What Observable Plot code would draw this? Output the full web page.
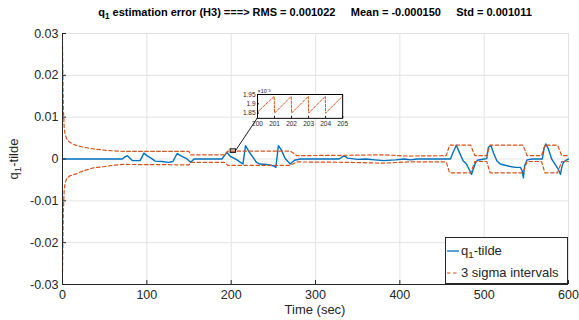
<!DOCTYPE html>
<html><head><meta charset="utf-8">
<script src="https://cdn.jsdelivr.net/npm/d3@7"></script>
<script src="https://cdn.jsdelivr.net/npm/@observablehq/plot@0.6"></script>
<style>
body{margin:0;background:#fff;font-family:"Liberation Sans",Arial,sans-serif;color:#262626;}
#wrap{position:relative;width:579px;height:320px;overflow:hidden;background:#fff;}
#title{height:24px;position:relative;}
#title span{position:absolute;left:62px;width:506px;top:6px;text-align:center;font-weight:bold;font-size:11px;color:#000;white-space:pre;line-height:12px;}
sub{font-size:75%;line-height:0;vertical-align:-0.35em;}
.lab{position:absolute;font-size:13px;color:#262626;white-space:nowrap;line-height:14px;}
#legend{position:absolute;left:445px;top:237px;width:121px;height:45px;border:1px solid #262626;background:#fff;}
#legend div{position:absolute;left:0;height:20px;font-size:13px;white-space:nowrap;}
#legend svg{position:absolute;left:1px;top:4px;}
#legend span{position:absolute;left:15px;top:2px;}
</style></head>
<body><div id="wrap"></div>
<script>
// ---- data ----
const titleText = "estimation error (H3) ===> RMS = 0.001022     Mean = -0.000150     Std = 0.001011";
const xTicks = [0, 100, 200, 300, 400, 500, 600];
const yTicks = [-0.03, -0.02, -0.01, 0, 0.01, 0.02, 0.03];
const xDomain = [0, 600];
const yDomain = [-0.03, 0.03];

// q1-tilde (estimation error)
const errT = [0, 71, 74, 77, 80, 83, 92, 94, 96.5, 100, 105, 110, 118, 126, 131, 134, 136, 140, 147, 152, 156, 189, 192, 195, 199, 203, 207, 211, 214, 217, 221, 226, 230, 234, 242, 250, 253, 256, 260, 264, 270, 275, 282, 328, 334, 338, 350, 360, 370, 381, 395, 405, 413, 420, 460, 463, 467, 471, 475, 479, 483, 485, 487, 489.5, 492, 500, 503, 505, 508, 511, 515, 519, 525, 531, 537, 543, 545, 546.5, 548, 551, 557, 569, 571, 573, 576, 580, 584, 588, 590.5, 592, 594, 597, 600];
const errV = [0, 0, 0.0005, 0.0008, 0.0002, -0.0004, -0.0004, 0.0004, 0.0014, 0.0008, 0.0002, -0.0005, -0.0006, -0.0008, -0.0006, 0.0006, 0.0013, 0.0008, 0.0001, -0.0008, 0, 0, 0.0008, 0.0016, 0.0006, 0.0002, -0.0002, -0.0008, -0.0012, 0.0032, 0.0018, 0.0004, -0.0008, -0.0012, -0.0013, -0.0016, -0.002, 0.0032, 0.002, 0.0001, -0.0012, -0.0003, 0, 0, 0.0008, 0.0002, -0.0001, 0, -0.0002, -0.0004, -0.0002, 0, -0.0002, 0, 0, 0.0015, 0.0033, 0.0014, -0.0004, -0.0012, -0.0028, -0.0037, -0.0025, -0.001, -0.0003, 0, 0.0001, 0.0028, 0.0033, 0.0015, -0.0004, -0.0012, -0.0015, -0.0018, -0.002, -0.002, -0.0028, -0.0045, -0.0016, -0.0002, 0, 0, 0.0025, 0.0036, 0.0025, 0, -0.0012, -0.0025, -0.0037, -0.002, -0.0008, -0.0003, 0];

// 3 sigma intervals
const sigT = [0, 0.5, 1, 2, 3, 5, 8, 12, 17, 25, 37, 50, 57, 65, 73, 150, 152, 192, 196, 270, 278, 340, 380, 410, 455, 459, 484, 489, 503, 507, 546, 551, 568, 572, 587, 592, 600];
const sigUp = [0.027, 0.02, 0.012, 0.0075, 0.006, 0.0048, 0.0041, 0.0036, 0.0032, 0.0028, 0.0024, 0.0021, 0.002, 0.0019, 0.0018, 0.0018, 0.001, 0.001, 0.0019, 0.0019, 0.0008, 0.0009, 0.001, 0.0007, 0.0008, 0.0033, 0.0033, 0.0008, 0.0008, 0.0033, 0.0033, 0.0008, 0.0008, 0.0033, 0.0033, 0.0008, 0.0008];
const sigLo = [-0.027, -0.02, -0.012, -0.0075, -0.0058, -0.0047, -0.0041, -0.0038, -0.0035, -0.0028, -0.0021, -0.0018, -0.0016, -0.0014, -0.0013, -0.0014, -0.0008, -0.0008, -0.0015, -0.0015, -0.0007, -0.0008, -0.001, -0.0007, -0.0007, -0.0033, -0.0033, -0.0006, -0.0006, -0.0033, -0.0033, -0.0006, -0.0006, -0.0033, -0.0033, -0.0006, -0.0006];

// zoomed inset (values in 1e-3)
const insetT = [200, 200.98, 201, 201.98, 202, 202.98, 203, 203.98, 204, 204.98, 205];
const insetV = [1.856, 1.94, 1.85, 1.94, 1.85, 1.94, 1.85, 1.94, 1.85, 1.94, 1.945];
const insetXTicks = [200, 201, 202, 203, 204, 205];
const insetYTicks = [1.85, 1.9, 1.95];
const insetXDomain = [200, 205];
const insetYDomain = [1.822, 1.95];
// zoom marker region and inset placement (main data units)
const zoomBox = {x1: 200, x2: 205, y1: 0.00183, y2: 0.00195};
const insetBox = {x1: 231, x2: 332, y1: 0.0098, y2: 0.0155};

// ---- chart ----
const BLUE = "#0072BD", ORANGE = "#D95319", INK = "#262626", GRID = "#e3e3e3";
const font = '"Liberation Sans", Arial, sans-serif';
const wrap = document.getElementById("wrap");

const title = document.createElement("div");
title.id = "title";
title.innerHTML = `<span>q<sub>1</sub> ${titleText.replace(/>/g, "&gt;")}</span>`;
wrap.appendChild(title);

const W = 579, H = 296, mL = 62, mR = 11, mT = 9, mB = 36;
const tickLen = 4;
const xl = (xDomain[1] - xDomain[0]) * tickLen / (W - mL - mR);
const yl = (yDomain[1] - yDomain[0]) * tickLen / (H - mT - mB);

const err = errT.map((t, i) => ({t, v: errV[i]}));
const up = sigT.map((t, i) => ({t, v: sigUp[i]}));
const lo = sigT.map((t, i) => ({t, v: sigLo[i]}));

const main = Plot.plot({
  width: W, height: H, marginLeft: mL, marginRight: mR, marginTop: mT, marginBottom: mB,
  x: {domain: xDomain}, y: {domain: yDomain},
  style: {fontFamily: font, fontSize: "12.5px", color: INK, background: "transparent"},
  marks: [
    Plot.gridX(xTicks, {stroke: GRID, strokeOpacity: 1}),
    Plot.gridY(yTicks, {stroke: GRID, strokeOpacity: 1}),
    Plot.line(err, {x: "t", y: "v", stroke: BLUE, strokeWidth: 1.4}),
    Plot.line(up, {x: "t", y: "v", stroke: ORANGE, strokeWidth: 1.2, strokeDasharray: "3.5,2.5"}),
    Plot.line(lo, {x: "t", y: "v", stroke: ORANGE, strokeWidth: 1.2, strokeDasharray: "3.5,2.5"}),
    Plot.rect([zoomBox], {x1: "x1", x2: "x2", y1: "y1", y2: "y2", stroke: "#000", fill: "none", strokeWidth: 1, insetTop: -1.5, insetBottom: -1.5, insetLeft: -0.5, insetRight: -0.5}),
    Plot.link([{a: zoomBox.x2, b: zoomBox.y2, c: insetBox.x1, d: insetBox.y1}], {x1: "a", y1: "b", x2: "c", y2: "d", stroke: "#000", strokeWidth: 0.9}),
    Plot.ruleX(xTicks, {x: d => d, y1: yDomain[0], y2: yDomain[0] + yl, stroke: INK}),
    Plot.ruleY(yTicks, {y: d => d, x1: xDomain[0], x2: xDomain[0] + xl, stroke: INK}),
    Plot.ruleX([xDomain[0]], {stroke: INK}),
    Plot.ruleY([yDomain[0]], {stroke: INK}),
    Plot.axisX({ticks: xTicks, tickSize: 0, tickPadding: 6, label: null, fill: INK}),
    Plot.axisY({ticks: yTicks, tickSize: 0, tickPadding: 4, label: null, tickFormat: d => d === 0 ? "0" : d.toFixed(2), fill: INK})
  ]
});
main.style.display = "block";
wrap.appendChild(main);

const sx = main.scale("x"), sy = main.scale("y");

// inset axes
const iL = 28, iR = 8, iT = 12, iB = 14;
const iw = sx.apply(insetBox.x2) - sx.apply(insetBox.x1);
const ih = sy.apply(insetBox.y1) - sy.apply(insetBox.y2);
const insetData = insetT.map((t, i) => ({t, v: insetV[i]}));
const inset = Plot.plot({
  width: iw + iL + iR, height: ih + iT + iB,
  marginLeft: iL, marginRight: iR, marginTop: iT, marginBottom: iB,
  x: {domain: insetXDomain}, y: {domain: insetYDomain},
  style: {fontFamily: font, fontSize: "6.5px", color: INK, background: "transparent", overflow: "visible"},
  marks: [
    Plot.frame({fill: "#fff", stroke: null}),
    Plot.line(insetData, {x: "t", y: "v", stroke: ORANGE, strokeWidth: 1, strokeDasharray: "2.5,1.5"}),
    Plot.frame({stroke: "#000", strokeWidth: 1}),
    Plot.ruleX(insetXTicks, {x: d => d, y1: insetYDomain[0], y2: insetYDomain[0] + (insetYDomain[1] - insetYDomain[0]) * 2 / ih, stroke: "#000"}),
    Plot.ruleY(insetYTicks, {y: d => d, x1: insetXDomain[0], x2: insetXDomain[0] + (insetXDomain[1] - insetXDomain[0]) * 2 / iw, stroke: "#000"}),
    Plot.axisX({ticks: insetXTicks, tickSize: 0, tickPadding: 3, label: null, tickFormat: d => String(d), fill: INK}),
    Plot.axisY({ticks: insetYTicks, tickSize: 0, tickPadding: 2, label: null, tickFormat: d => String(d), fill: INK}),
    Plot.text(["×10⁻³"], {frameAnchor: "top-left", dy: -5, dx: 0, textAnchor: "start", fontSize: 5.5, fill: INK})
  ]
});
inset.style.position = "absolute";
inset.style.left = (sx.apply(insetBox.x1) - iL) + "px";
inset.style.top = (24 + sy.apply(insetBox.y2) - iT) + "px";
wrap.appendChild(inset);

// axis labels
const xlab = document.createElement("div");
xlab.className = "lab";
xlab.textContent = "Time (sec)";
xlab.style.left = mL + "px"; xlab.style.width = (W - mL - mR) + "px"; xlab.style.textAlign = "center";
xlab.style.top = "303px";
wrap.appendChild(xlab);

const ylab = document.createElement("div");
ylab.className = "lab";
ylab.innerHTML = "q<sub>1</sub>-tilde";
ylab.style.left = "14px"; ylab.style.top = (24 + (mT + (H - mB)) / 2) + "px";
ylab.style.transform = "translate(-50%,-50%) rotate(-90deg)";
wrap.appendChild(ylab);

// legend
const legend = document.createElement("div");
legend.id = "legend";
legend.innerHTML = `
<div style="top:3px"><svg width="12" height="12"><line x1="0" x2="12" y1="6" y2="6" stroke="${BLUE}" stroke-width="1.3"/></svg><span>q<sub>1</sub>-tilde</span></div>
<div style="top:25px"><svg width="12" height="12"><line x1="0" x2="12" y1="6" y2="6" stroke="${ORANGE}" stroke-width="1.2" stroke-dasharray="3.5,2.5"/></svg><span>3 sigma intervals</span></div>`;
wrap.appendChild(legend);
</script>
</body></html>
